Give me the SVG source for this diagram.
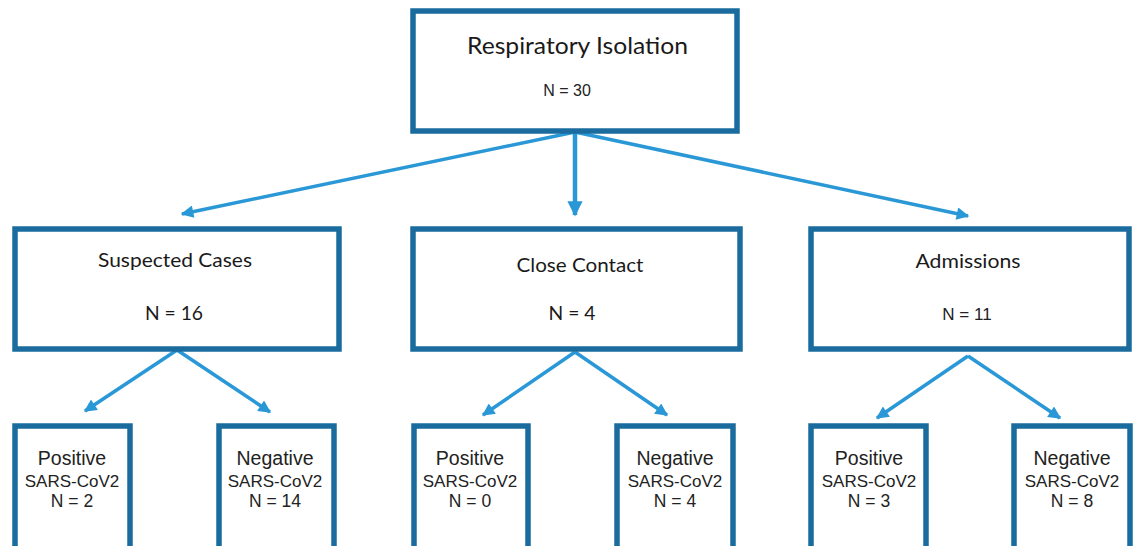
<svg xmlns="http://www.w3.org/2000/svg" width="1133" height="546" viewBox="0 0 1133 546">
<style>
.box{fill:#fff;stroke:#1a6c9f;stroke-width:5.5}
.cal{font-family:Lato,"Open Sans",sans-serif;fill:#1a1a1a;text-anchor:middle}
.ar{font-family:"Liberation Sans",Arial,sans-serif;fill:#222;text-anchor:middle}
.c{fill:none;stroke:#2a98d6;stroke-width:3.5}
</style>
<defs>
<marker id="ah" viewBox="0 0 10 10" refX="9" refY="5" markerWidth="4" markerHeight="3.6" orient="auto" markerUnits="strokeWidth">
<path d="M0,0 L10,5 L0,10 z" fill="#2a98d6"/>
</marker>
<marker id="ahb" viewBox="0 0 10 10" refX="9" refY="5" markerWidth="3.4" markerHeight="3.6" orient="auto" markerUnits="strokeWidth">
<path d="M0,0 L10,5 L0,10 z" fill="#2a98d6"/>
</marker>
</defs>
<rect width="1133" height="546" fill="#fff"/>
<g id="connectors">
<line class="c" x1="575" y1="132" x2="182" y2="214" marker-end="url(#ah)"/>
<line class="c" x1="575" y1="132" x2="575" y2="215" marker-end="url(#ahb)" style="stroke-width:4.5"/>
<line class="c" x1="575" y1="132" x2="968" y2="216" marker-end="url(#ah)"/>
<line class="c" x1="177" y1="350" x2="85" y2="411" marker-end="url(#ah)"/>
<line class="c" x1="177" y1="350" x2="270" y2="412" marker-end="url(#ah)"/>
<line class="c" x1="575" y1="352" x2="483" y2="415" marker-end="url(#ah)"/>
<line class="c" x1="575" y1="352" x2="667" y2="415" marker-end="url(#ah)"/>
<line class="c" x1="968" y1="356" x2="877" y2="418" marker-end="url(#ah)"/>
<line class="c" x1="968" y1="356" x2="1060" y2="418" marker-end="url(#ah)"/>
</g>
<g id="respiratory">
<rect class="box" x="413" y="11" width="324" height="120"/>
<text class="cal" x="577.5" y="54" font-size="23" textLength="221" lengthAdjust="spacingAndGlyphs">Respiratory Isolation</text>
<text class="ar" x="567" y="96" font-size="16">N = 30</text>
</g>
<g id="suspected">
<rect class="box" x="15" y="229" width="324" height="120"/>
<text class="cal" x="175" y="267" font-size="20" textLength="154" lengthAdjust="spacingAndGlyphs">Suspected Cases</text>
<text class="cal" x="174" y="320" font-size="20" textLength="58" lengthAdjust="spacingAndGlyphs">N = 16</text>
</g>
<g id="close">
<rect class="box" x="413" y="229" width="327" height="120"/>
<text class="cal" x="580" y="272" font-size="20" textLength="127" lengthAdjust="spacingAndGlyphs">Close Contact</text>
<text class="cal" x="572" y="320" font-size="20" textLength="47" lengthAdjust="spacingAndGlyphs">N = 4</text>
</g>
<g id="admissions">
<rect class="box" x="811" y="229" width="318" height="120"/>
<text class="cal" x="968" y="268" font-size="20" textLength="105" lengthAdjust="spacingAndGlyphs">Admissions</text>
<text class="ar" x="967" y="320" font-size="17">N = 11</text>
</g>
<g id="sus-pos">
<rect class="box" x="15" y="426" width="115" height="140"/>
<text class="ar" x="72" y="465" font-size="19.5">Positive</text>
<text class="ar" x="72" y="487" font-size="17">SARS-CoV2</text>
<text class="ar" x="72" y="507" font-size="17.5">N = 2</text>
</g>
<g id="sus-neg">
<rect class="box" x="219" y="426" width="115" height="140"/>
<text class="ar" x="275" y="465" font-size="19.5">Negative</text>
<text class="ar" x="275" y="487" font-size="17">SARS-CoV2</text>
<text class="ar" x="275" y="507" font-size="17.5">N = 14</text>
</g>
<g id="cc-pos">
<rect class="box" x="414" y="426" width="114" height="140"/>
<text class="ar" x="470" y="465" font-size="19.5">Positive</text>
<text class="ar" x="470" y="487" font-size="17">SARS-CoV2</text>
<text class="ar" x="470" y="507" font-size="17.5">N = 0</text>
</g>
<g id="cc-neg">
<rect class="box" x="617" y="426" width="116" height="140"/>
<text class="ar" x="675" y="465" font-size="19.5">Negative</text>
<text class="ar" x="675" y="487" font-size="17">SARS-CoV2</text>
<text class="ar" x="675" y="507" font-size="17.5">N = 4</text>
</g>
<g id="adm-pos">
<rect class="box" x="811" y="426" width="115" height="140"/>
<text class="ar" x="869" y="465" font-size="19.5">Positive</text>
<text class="ar" x="869" y="487" font-size="17">SARS-CoV2</text>
<text class="ar" x="869" y="507" font-size="17.5">N = 3</text>
</g>
<g id="adm-neg">
<rect class="box" x="1014" y="426" width="116" height="140"/>
<text class="ar" x="1072" y="465" font-size="19.5">Negative</text>
<text class="ar" x="1072" y="487" font-size="17">SARS-CoV2</text>
<text class="ar" x="1072" y="507" font-size="17.5">N = 8</text>
</g>
</svg>
